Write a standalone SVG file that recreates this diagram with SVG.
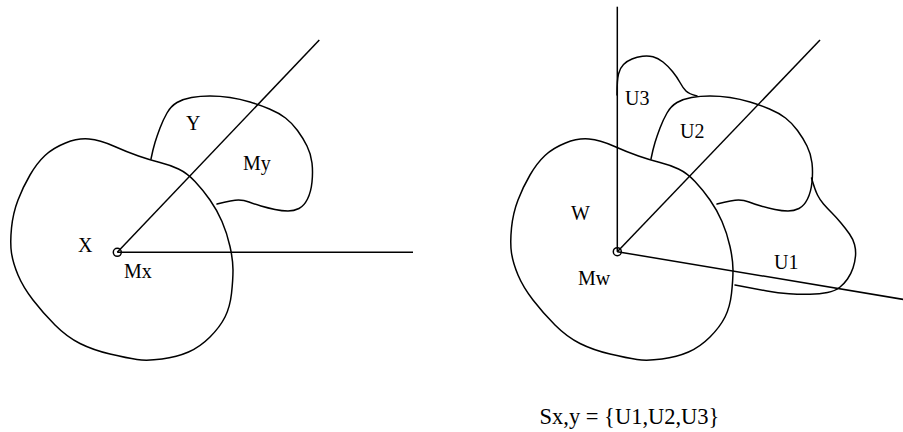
<svg xmlns="http://www.w3.org/2000/svg" xmlns:xlink="http://www.w3.org/1999/xlink" width="903" height="432" viewBox="0 0 903 432">
<style>
.c{fill:none;stroke:#000;stroke-width:1.5;stroke-linejoin:round;stroke-linecap:round}
.r{fill:none;stroke:#000;stroke-width:1.5}
.p{fill:none;stroke:#000;stroke-width:1.5}
text{font-family:"Liberation Serif","Times New Roman",serif;font-size:20px;fill:#000}
.cap{font-size:22.5px}
</style>
<defs>
<path id="bigBlob" d="M 89,139 Q 100,140 113.5,146 Q 127,152 138.5,156 Q 150,160 160,162.5 Q 170,165 178.5,169 Q 187,173 195,181.5 Q 203,190 210,200 Q 217,210 222,221.5 Q 227,233 230,246.5 Q 233,260 233,270 Q 233,280 231.5,293.5 Q 230,307 225,317 Q 220,327 210,337 Q 200,347 188.5,352 Q 177,357 162,359 Q 147,361 137,359.5 Q 127,358 110,354 Q 93,350 80,343.5 Q 67,337 55,325 Q 43,313 33,300 Q 23,287 18,275 Q 13,263 11.5,253 Q 10,243 11.5,228 Q 13,213 18,200 Q 23,187 30,175 Q 37,163 45,155.5 Q 53,148 65.5,143 Q 78,138 89,139 Z"/>
<path id="sideBlob" d="M 151,159 Q 153,149 155,142.5 Q 157,136 160,128 Q 163,120 167,113 Q 171,106 177,102.5 Q 183,99 191.5,97.5 Q 200,96 210,96 Q 220,96 230,97.5 Q 240,99 250,102 Q 260,105 269.5,109 Q 279,113 285.5,118 Q 292,123 297.5,130.5 Q 303,138 307,146 Q 311,154 312,163 Q 313,172 312,182 Q 311,192 307.5,199 Q 304,206 299,208.5 Q 294,211 288,211 Q 282,211 275,209.5 Q 268,208 261,206 Q 254,204 249,202 Q 244,200 238.5,200 Q 233,200 217,204"/>
</defs>

<g id="node-X">
<use xlink:href="#bigBlob" href="#bigBlob" class="c"/>
<text x="78" y="252">X</text>
</g>
<g id="node-Y">
<use xlink:href="#sideBlob" href="#sideBlob" class="c"/>
<text x="186" y="130">Y</text>
<text x="243" y="170">My</text>
</g>

<g id="node-W">
<use xlink:href="#bigBlob" href="#bigBlob" class="c" transform="translate(500,0)"/>
<text x="571" y="220">W</text>
</g>
<g id="node-U2">
<use xlink:href="#sideBlob" href="#sideBlob" class="c" transform="translate(500,0)"/>
<text x="680" y="138">U2</text>
</g>
<g id="node-U3">
<path class="c" d="M 617,95 Q 617,80 618.5,74 Q 620,68 623.5,64.5 Q 627,61 632,59 Q 637,57 642.5,56.25 Q 648,55.5 653,56.75 Q 658,58 663,62 Q 668,66 672.5,71.5 Q 677,77 680,82.5 Q 683,88 686,91 Q 689,94 697,96"/>
<text x="625" y="105">U3</text>
</g>
<g id="node-U1">
<path class="c" d="M 811.5,178 Q 815,190 817.5,195 Q 820,200 823.5,204 Q 827,208 831.5,212.5 Q 836,217 841,223 Q 846,229 849.5,234 Q 853,239 854.5,244.5 Q 856,250 855.5,256 Q 855,262 853,268 Q 851,274 847.5,279 Q 844,284 839.5,287.5 Q 835,291 827.5,292.5 Q 820,294 810,294.25 Q 800,294.5 789,293.75 Q 778,293 767,291 Q 756,289 735,285"/>
<text x="774" y="269">U1</text>
</g>

<g id="connectors">
<line class="r" x1="117.3" y1="252.3" x2="413" y2="252.3"/>
<line class="r" x1="117.3" y1="252.3" x2="319.3" y2="40"/>
<line class="r" x1="617.3" y1="251.7" x2="617.3" y2="6.7"/>
<line class="r" x1="617.3" y1="251.7" x2="820" y2="40"/>
<line class="r" x1="617.3" y1="251.7" x2="905" y2="299.7"/>
</g>

<g id="node-Mx">
<circle class="p" cx="117.3" cy="252.3" r="4"/>
<text x="124" y="277.5">Mx</text>
</g>
<g id="node-Mw">
<circle class="p" cx="617.3" cy="251.7" r="4"/>
<text x="578" y="285">Mw</text>
</g>

<text id="caption" class="cap" x="539.5" y="424">Sx,y = {U1,U2,U3}</text>
</svg>
